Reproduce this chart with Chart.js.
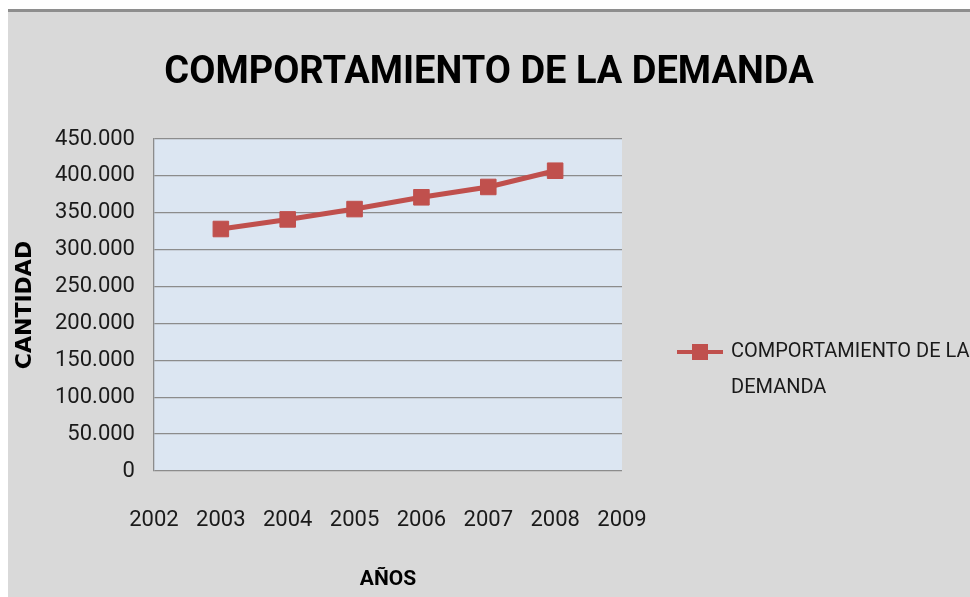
<!DOCTYPE html>
<html>
<head>
<meta charset="utf-8">
<script src="https://cdn.jsdelivr.net/npm/chart.js@4/dist/chart.umd.min.js"></script>
<style>
  html, body { margin: 0; padding: 0; background: #ffffff; overflow: hidden; }
  #marco {
    position: absolute; left: 8px; top: 9px;
    width: 962px; height: 585px;
    border-top: 3px solid #8e8e8e;
    background: #d9d9d9;
  }
</style>
</head>
<body>
<div id="marco"><canvas id="grafica"></canvas></div>
<script>
// Datos
const anios = [2003, 2004, 2005, 2006, 2007, 2008];
const demanda = [328000, 341000, 355000, 371000, 385000, 407000];
const titulo = 'COMPORTAMIENTO DE LA DEMANDA';
const lineasLeyenda = ['COMPORTAMIENTO DE LA', 'DEMANDA'];

const rojo = '#c0504d';
const texto = '#1a1a1a';
const fuente = 'Roboto, "Liberation Sans", sans-serif';

// separador de miles con punto
function miles(v) {
  return String(Math.round(v)).replace(/\B(?=(\d{3})+(?!\d))/g, '.');
}

// icono de la leyenda: linea con cuadrado
const icono = document.createElement('canvas');
icono.width = 46;
icono.height = 18;
const ic = icono.getContext('2d');
ic.fillStyle = rojo;
ic.fillRect(0, 7, 46, 4);
ic.fillRect(15, 1, 16, 16);

// fondo azul del area de trazado
const fondoArea = {
  id: 'fondoArea',
  beforeDraw(chart) {
    const a = chart.chartArea;
    const c = chart.ctx;
    c.save();
    c.fillStyle = '#dce6f2';
    c.fillRect(a.left, a.top, a.right - a.left, a.bottom - a.top);
    c.restore();
  }
};

const ctx = document.getElementById('grafica').getContext('2d');

new Chart(ctx, {
  type: 'line',
  data: {
    datasets: [
      {
        label: titulo,
        data: anios.map((a, i) => ({ x: a, y: demanda[i] })),
        borderColor: rojo,
        backgroundColor: rojo,
        borderWidth: 5,
        tension: 0,
        pointStyle: 'rect',
        pointRadius: 11,
        pointBorderWidth: 1,
        pointBackgroundColor: rojo,
        pointBorderColor: rojo,
      },
    ],
  },
  options: {
    responsive: true,
    maintainAspectRatio: false,
    animation: false,
    layout: { padding: { left: 0, right: 0, top: 0, bottom: 0 } },
    plugins: {
      tooltip: { enabled: false },
      title: {
        display: true,
        text: titulo,
        color: '#000000',
        font: { family: fuente, size: 38, weight: 'bold', lineHeight: 1.2 },
        padding: { top: 39, bottom: 42.4 },
      },
      legend: {
        display: true,
        position: 'right',
        align: 'end',
        fullSize: false,
        maxWidth: 348,
        labels: {
          color: texto,
          font: { family: fuente, size: 20, lineHeight: 1.8 },
          usePointStyle: true,
          pointStyleWidth: 42,
          padding: 57,
          generateLabels(chart) {
            const items = Chart.defaults.plugins.legend.labels.generateLabels(chart);
            items.forEach(it => {
              it.text = lineasLeyenda;
              it.pointStyle = icono;
            });
            return items;
          },
        },
      },
    },
    scales: {
      x: {
        type: 'linear',
        min: 2002,
        max: 2009,
        grid: { display: false, drawTicks: false },
        border: { display: false },
        ticks: {
          stepSize: 1,
          autoSkip: false,
          maxRotation: 0,
          padding: 38,
          color: texto,
          font: { family: fuente, size: 22, lineHeight: 1.0 },
          callback: v => String(v),
        },
        title: {
          display: true,
          text: 'AÑOS',
          color: '#000000',
          font: { family: fuente, size: 21, weight: 'bold', lineHeight: 1.0 },
          padding: { top: 0, bottom: 7 },
        },
      },
      y: {
        min: 0,
        max: 450000,
        grid: { color: '#8c8c8c', lineWidth: 1.3, drawTicks: false },
        border: { display: true, color: '#8c8c8c', width: 1.3 },
        ticks: {
          stepSize: 50000,
          autoSkip: false,
          padding: 19,
          color: texto,
          font: { family: fuente, size: 22 },
          callback: v => miles(v),
        },
        title: {
          display: true,
          text: 'CANTIDAD',
          color: '#000000',
          font: { family: '"DejaVu Sans", sans-serif', size: 22, weight: 'bold', lineHeight: 1.0 },
          padding: { top: 6, bottom: 0 },
        },
      },
    },
  },
  plugins: [fondoArea],
});
</script>
</body>
</html>
